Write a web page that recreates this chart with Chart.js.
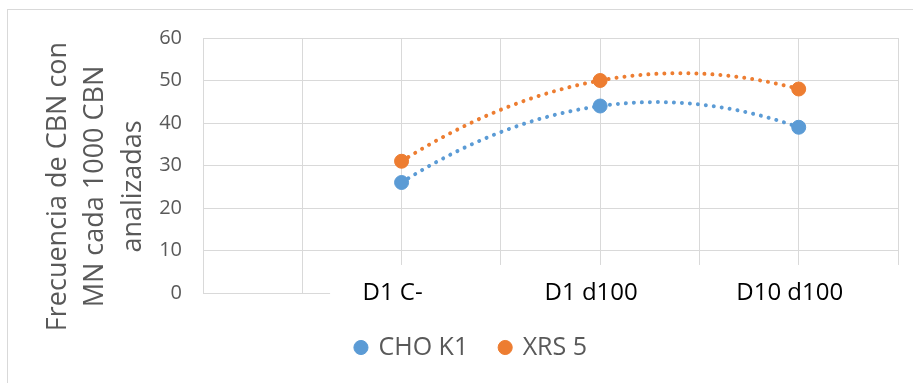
<!DOCTYPE html>
<html>
<head>
<meta charset="utf-8">
<title>Frecuencia de CBN con MN</title>
<script src="https://cdn.jsdelivr.net/npm/chart.js@4/dist/chart.umd.min.js"></script>
<style>
  html, body { margin: 0; padding: 0; background: #fff; overflow: hidden; }
  #wrap { position: relative; width: 913px; height: 383px; }
  /* outer chart frame, only top and left edges are visible in the crop */
  #frame { position: absolute; left: 7px; top: 9px; width: 1000px; height: 500px; border: 1px solid #d9d9d9; box-sizing: border-box; }
  #chart { position: absolute; left: 0; top: 0; }
</style>
</head>
<body>
<div id="wrap">
  <div id="frame"></div>
  <canvas id="chart" width="913" height="383"></canvas>
</div>
<script>
// data
const categories = ['D1 C-', 'D1 d100', 'D10 d100'];
const categoryX = [2, 4, 6];
const choK1 = [26, 44, 39];
const xrs5 = [31, 50, 48];
const yTicks = [0, 10, 20, 30, 40, 50, 60];
const yTitle = ['Frecuencia de CBN con', 'MN cada 1000 CBN', 'analizadas'];

const BLUE = '#5b9bd5';
const ORANGE = '#ed7d31';
const GRID = '#d9d9d9';
const TEXT = '#595959';
const FONT = "'Open Sans', 'Noto Sans', sans-serif";

// least squares fit y = a + b x + c x^2 (Excel polynomial trendline, order 2)
function quadFit(xs, ys) {
  const s = [0, 0, 0, 0, 0];
  const t = [0, 0, 0];
  xs.forEach((x, i) => {
    for (let k = 0; k < 5; k++) s[k] += Math.pow(x, k);
    for (let k = 0; k < 3; k++) t[k] += ys[i] * Math.pow(x, k);
  });
  const m = [
    [s[0], s[1], s[2], t[0]],
    [s[1], s[2], s[3], t[1]],
    [s[2], s[3], s[4], t[2]]
  ];
  for (let i = 0; i < 3; i++) {
    for (let j = i + 1; j < 3; j++) {
      const f = m[j][i] / m[i][i];
      for (let k = i; k < 4; k++) m[j][k] -= f * m[i][k];
    }
  }
  const r = [0, 0, 0];
  for (let i = 2; i >= 0; i--) {
    let v = m[i][3];
    for (let k = i + 1; k < 3; k++) v -= m[i][k] * r[k];
    r[i] = v / m[i][i];
  }
  return r;
}

// white box behind the category labels (hides grid under them)
const labelBoxPlugin = {
  id: 'labelBox',
  beforeDatasetsDraw(chart) {
    const { ctx, chartArea, scales: { x, y } } = chart;
    const left = x.getPixelForValue(1.28);
    const top = y.getPixelForValue(6.6);
    ctx.save();
    ctx.fillStyle = '#fff';
    ctx.fillRect(left, top, chart.width - left, chartArea.bottom + 14 - top);
    ctx.restore();
  }
};

// dotted polynomial trendlines
const trendlinePlugin = {
  id: 'trendlines',
  beforeDatasetsDraw(chart) {
    const { ctx, scales: { x, y } } = chart;
    chart.data.datasets.forEach(ds => {
      const xs = ds.data.map(p => p.x);
      const ys = ds.data.map(p => p.y);
      const [a, b, c] = quadFit(xs, ys);
      const x0 = Math.min(...xs), x1 = Math.max(...xs);
      const steps = 120;
      ctx.save();
      ctx.beginPath();
      for (let i = 0; i <= steps; i++) {
        const xv = x0 + (x1 - x0) * i / steps;
        const px = x.getPixelForValue(xv);
        const py = y.getPixelForValue(a + b * xv + c * xv * xv);
        if (i === 0) ctx.moveTo(px, py); else ctx.lineTo(px, py);
      }
      ctx.strokeStyle = ds.borderColor;
      ctx.lineWidth = 4;
      ctx.lineCap = 'round';
      ctx.setLineDash([0.01, 8]);
      ctx.stroke();
      ctx.restore();
    });
  }
};

// three-line rotated y axis title
const yTitlePlugin = {
  id: 'yTitle',
  afterDraw(chart) {
    const { ctx, chartArea } = chart;
    const cy = (chartArea.top + chartArea.bottom) / 2 + 21;
    ctx.save();
    ctx.font = `27px ${FONT}`;
    ctx.fillStyle = TEXT;
    ctx.textAlign = 'center';
    ctx.textBaseline = 'middle';
    yTitle.forEach((line, i) => {
      ctx.save();
      ctx.translate(chartArea.left - 145 + 37.5 * i, cy);
      ctx.rotate(-Math.PI / 2);
      ctx.fillText(line, 0, 0);
      ctx.restore();
    });
    ctx.restore();
  }
};

// fixed legend height so the plot area keeps its place
const legendFitPlugin = {
  id: 'legendFit',
  beforeLayout(chart) {
    const lg = chart.legend;
    if (lg && !lg._fixedFit) {
      const fit = lg.fit;
      lg.fit = function () { fit.call(this); this.height = 80; };
      lg._fixedFit = true;
    }
  }
};

const toPoints = vals => vals.map((v, i) => ({ x: categoryX[i], y: v }));

new Chart(document.getElementById('chart'), {
  type: 'scatter',
  data: {
    datasets: [
      {
        label: 'CHO K1',
        data: toPoints(choK1),
        backgroundColor: BLUE,
        borderColor: BLUE,
        pointRadius: 7,
        pointBorderWidth: 1,
        showLine: false
      },
      {
        label: 'XRS 5',
        data: toPoints(xrs5),
        backgroundColor: ORANGE,
        borderColor: ORANGE,
        pointRadius: 7,
        pointBorderWidth: 1,
        showLine: false
      }
    ]
  },
  options: {
    responsive: false,
    animation: false,
    layout: { padding: { left: 45, top: 38, right: 15, bottom: 0 } },
    scales: {
      x: {
        type: 'linear',
        min: 0,
        max: 7,
        afterFit: s => { s.height = 10; },
        grid: { color: GRID, lineWidth: 1, drawTicks: false },
        border: { color: GRID },
        ticks: {
          stepSize: 1,
          autoSkip: false,
          maxRotation: 0,
          mirror: true,
          padding: -15,
          labelOffset: -9,
          z: 1,
          color: '#000',
          font: { family: FONT, size: 24 },
          callback: v => {
            const i = categoryX.indexOf(v);
            return i >= 0 ? categories[i] : '';
          }
        }
      },
      y: {
        min: 0,
        max: 60,
        afterFit: s => { s.width = 158; },
        afterBuildTicks: s => { s.ticks = yTicks.map(v => ({ value: v })); },
        grid: { color: GRID, lineWidth: 1, drawTicks: false },
        border: { color: GRID },
        ticks: {
          padding: 21,
          color: TEXT,
          font: { family: FONT, size: 20 }
        }
      }
    },
    plugins: {
      legend: {
        position: 'bottom',
        labels: {
          usePointStyle: true,
          pointStyle: 'circle',
          boxWidth: 10,
          boxHeight: 10,
          padding: 32,
          color: TEXT,
          font: { family: FONT, size: 25 }
        }
      },
      tooltip: { enabled: false }
    }
  },
  plugins: [labelBoxPlugin, trendlinePlugin, yTitlePlugin, legendFitPlugin]
});
</script>
</body>
</html>
